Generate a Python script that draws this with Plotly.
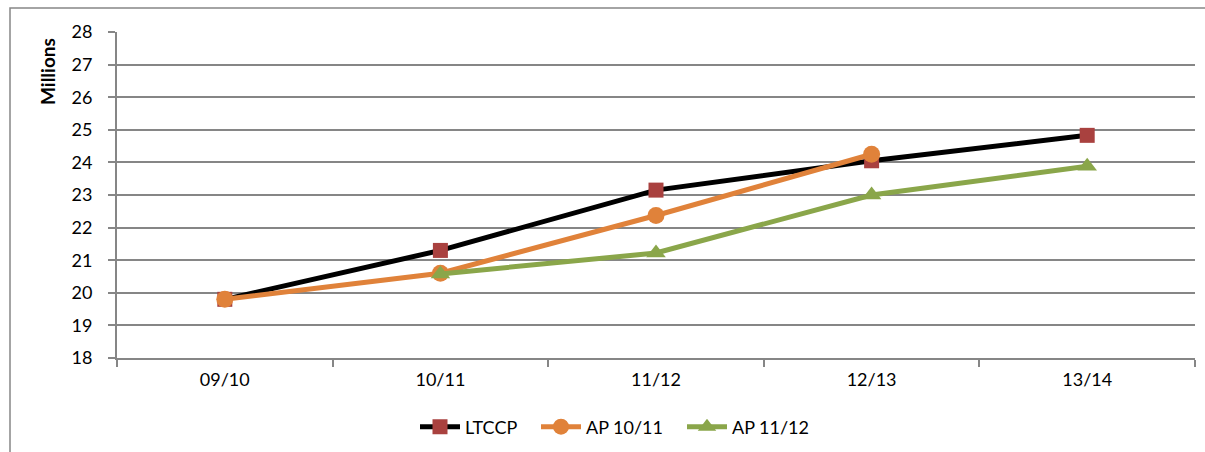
import plotly.graph_objects as go

categories = ["09/10", "10/11", "11/12", "12/13", "13/14"]
ltccp = [19.8, 21.3, 23.15, 24.05, 24.83]
ap_1011 = [19.8, 20.6, 22.37, 24.25]
ap_1112 = [None, 20.58, 21.22, 23.0, 23.88]
y_ticks = list(range(18, 29))

font_family = "Lato, 'Open Sans', sans-serif"

fig = go.Figure()
fig.add_trace(go.Scatter(
    x=categories, y=ltccp, name="LTCCP", mode="lines+markers", legend="legend",
    line=dict(color="#000000", width=5),
    marker=dict(symbol="square", size=15, color="#A9413F", line=dict(width=0)),
))
fig.add_trace(go.Scatter(
    x=categories[:len(ap_1011)], y=ap_1011, name="AP 10/11", mode="lines+markers",
    legend="legend2",
    line=dict(color="#E0823A", width=5),
    marker=dict(symbol="circle", size=17, color="#E0823A", line=dict(width=0)),
))
fig.add_trace(go.Scatter(
    x=categories, y=ap_1112, name="AP 11/12", mode="lines+markers", legend="legend3",
    line=dict(color="#8AA64A", width=5),
    marker=dict(symbol="triangle-up", size=17, color="#8AA64A", line=dict(width=0)),
))

W = 1078.0
H = 326.0
def px_x(px):
    return (px - 117) / W

def px_y(py):
    return 1 - (py - 32) / H

leg_common = dict(orientation="h", xanchor="left", yanchor="middle", y=px_y(427),
                  font=dict(size=18), itemwidth=40, bgcolor="rgba(0,0,0,0)")

fig.update_layout(
    width=1205, height=452,
    margin=dict(l=117, r=10, t=32, b=94, autoexpand=False),
    paper_bgcolor="white", plot_bgcolor="white",
    font=dict(family=font_family, size=16, color="#000000"),
    showlegend=True,
    legend=dict(x=px_x(415), **leg_common),
    legend2=dict(x=px_x(536), **leg_common),
    legend3=dict(x=px_x(682), **leg_common),
    xaxis=dict(
        type="category", range=[-0.5, 4.5], tickson="boundaries",
        showline=True, linecolor="#868686", linewidth=2,
        ticks="outside", ticklen=7, tickwidth=2, tickcolor="#868686",
        showgrid=False, tickfont=dict(size=18), automargin=False,
        ticklabelstandoff=4,
    ),
    yaxis=dict(
        range=[18, 28], tickvals=y_ticks, ticktext=[str(v) for v in y_ticks],
        showline=True, linecolor="#868686", linewidth=2,
        ticks="outside", ticklen=7, tickwidth=2, tickcolor="#868686",
        showgrid=True, gridcolor="#868686", gridwidth=2, zeroline=False,
        tickfont=dict(size=18), automargin=False, ticklabelstandoff=12,
    ),
)

fig.add_annotation(text="<b>Millions</b>", xref="paper", yref="paper",
                   x=px_x(48), y=px_y(72),
                   textangle=-90, showarrow=False, font=dict(size=19),
                   xanchor="center", yanchor="middle")

fig.add_shape(type="rect", xref="paper", yref="paper",
              x0=px_x(10), x1=1.05, y0=-0.5, y1=px_y(8),
              line=dict(color="#868686", width=1.5), layer="below")

fig.write_html("out.html", config={"displayModeBar": False},
               post_script="document.body.style.margin='0';")
